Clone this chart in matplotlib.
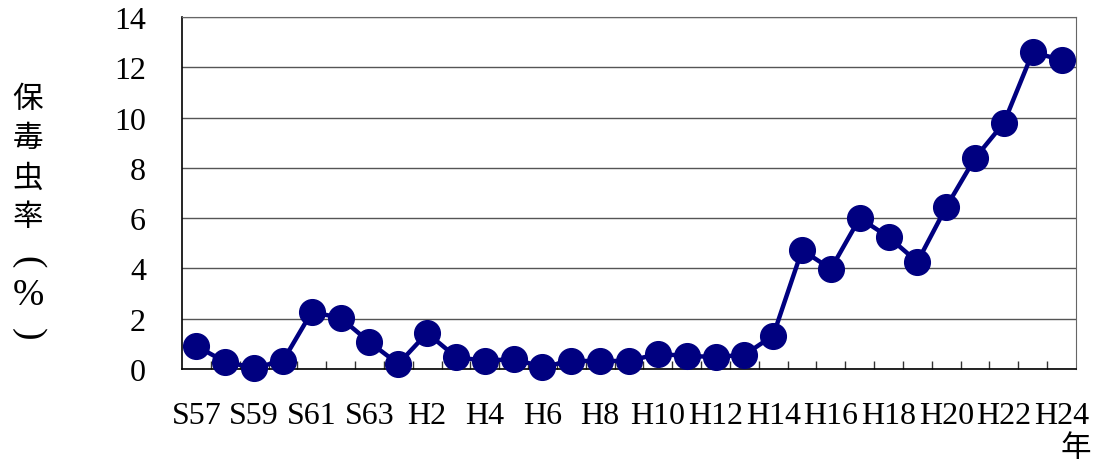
import numpy as np
import matplotlib
matplotlib.use("Agg")
import matplotlib.pyplot as plt
from matplotlib.ticker import FixedLocator

# data: 保毒虫率 (%), S57 .. H24
years = ["S57", "S58", "S59", "S60", "S61", "S62", "S63"] + [f"H{i}" for i in range(1, 25)]
rates = [0.91, 0.28, 0.05, 0.32, 2.27, 2.03, 1.07, 0.20, 1.43, 0.48,
         0.32, 0.40, 0.08, 0.32, 0.32, 0.32, 0.60, 0.52, 0.48, 0.56,
         1.33, 4.73, 3.98, 6.00, 5.25, 4.26, 6.44, 8.39, 9.79, 12.60, 12.29]
yticks = [0, 2, 4, 6, 8, 10, 12, 14]
ylabel_chars = ["保", "毒", "虫", "率", "(", "%", ")"]

serif = ["Liberation Serif", "DejaVu Serif"]
jp = ["Noto Sans CJK JP", "DejaVu Sans"]
navy = "#000080"

fig = plt.figure(figsize=(10.99, 4.64), dpi=100)
ax = fig.add_axes([182 / 1099, 1 - 370 / 464, 894 / 1099, 352 / 464])

x = np.arange(len(years))
ax.plot(x, rates, color=navy, lw=3.2, marker="o", ms=18.5, zorder=3, clip_on=False)

ax.set_xlim(-0.5, len(years) - 0.5)
ax.set_ylim(0, 14)
ax.set_yticks(yticks)
ax.set_yticklabels([str(v) for v in yticks], family=serif, fontsize=23,
                   va="center_baseline")
ax.yaxis.grid(True, color="#555555", lw=1)
ax.set_axisbelow(True)
ax.tick_params(axis="y", length=0, pad=26)

ax.set_xticks(x[::2])
ax.set_xticklabels(years[::2], family=serif, fontsize=23)
ax.xaxis.set_minor_locator(FixedLocator(np.arange(0.5, len(years) - 0.5, 1)))
ax.tick_params(axis="x", which="major", length=0, pad=23)
ax.tick_params(axis="x", which="minor", direction="in", length=6, width=1, color="#333333")

for side in ["top", "right"]:
    ax.spines[side].set_color("#666666")
for side in ["left", "bottom"]:
    ax.spines[side].set_color("black")
    ax.spines[side].set_linewidth(1.2)

# vertical y label
ys = [100, 138, 178, 218, 262, 296, 334]
for ch, yp in zip(ylabel_chars, ys):
    if ch in "()":
        fig.text(28 / 1099, 1 - yp / 464, ch, family=serif, fontsize=27,
                 rotation=-90, ha="center", va="center")
    elif ch == "%":
        fig.text(28 / 1099, 1 - yp / 464, ch, family=serif, fontsize=27,
                 ha="center", va="center")
    else:
        fig.text(28 / 1099, 1 - yp / 464, ch, family=jp, fontsize=22,
                 ha="center", va="center")

fig.text(1076 / 1099, 1 - 449 / 464, "年", family=jp, fontsize=22, ha="center", va="center")

fig.savefig("out.png", dpi=100)
